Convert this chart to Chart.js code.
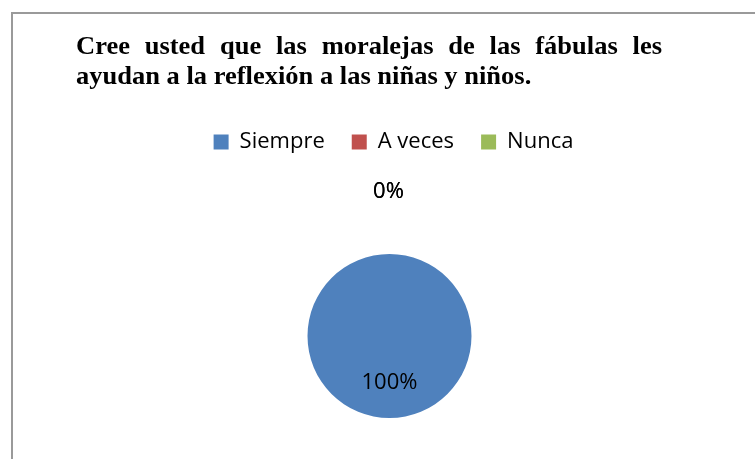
<!DOCTYPE html>
<html><head><meta charset="utf-8">
<script src="https://cdn.jsdelivr.net/npm/chart.js@4.4.1/dist/chart.umd.min.js"></script>
<style>html,body{margin:0;padding:0;background:#fff;overflow:hidden}#wrap{position:relative;width:755px;height:459px}canvas{display:block}</style>
</head><body><div id="wrap"><canvas id="c" width="755" height="459"></canvas></div>
<script>
// ---- data ----
const titleLines = ['Cree usted que las moralejas de las fábulas les', 'ayudan a la reflexión a las niñas y niños.'];
const categories = ['Siempre', 'A veces', 'Nunca'];
const values = [100, 0, 0];

// ---- styles ----
const sliceColors = ['#4F81BD', '#C0504D', '#9BBB59'];
const labelFont = '"Open Sans", "Liberation Sans", sans-serif';
const titleFont = 'bold 25px "Liberation Serif", "DejaVu Serif", serif';

function makeBoxes(chart) {
  const titleBox = {
    position: 'top', weight: 2000, fullSize: true, options: {},
    left: 0, top: 0, right: 0, bottom: 0, width: 0, height: 0,
    isHorizontal() { return true; },
    update(maxWidth) { this.width = maxWidth; this.height = 104; },
    draw() {
      const ctx = chart.ctx;
      const x0 = 76, x1 = 662, sx = 1.06;
      const baselines = [54, 84];
      ctx.save();
      ctx.translate(x0, 0);
      ctx.scale(sx, 1);
      ctx.font = titleFont;
      ctx.fillStyle = '#000';
      ctx.textBaseline = 'alphabetic';
      ctx.textAlign = 'left';
      titleLines.forEach((line, li) => {
        const y = baselines[li];
        if (li === 0) {
          const words = line.split(' ');
          const ww = words.map(w => ctx.measureText(w).width);
          const sum = ww.reduce((a, b) => a + b, 0);
          const gap = ((x1 - x0) / sx - sum) / (words.length - 1);
          let x = 0;
          words.forEach((w, i) => { ctx.fillText(w, x, y); x += ww[i] + gap; });
        } else {
          ctx.fillText(line, 0, y);
        }
      });
      ctx.restore();
    }
  };
  const spacerTop = {
    position: 'top', weight: 500, fullSize: true, options: {},
    left: 0, top: 0, right: 0, bottom: 0, width: 0, height: 0,
    isHorizontal() { return true; },
    update(maxWidth) { this.width = maxWidth; this.height = 91; },
    draw() {}
  };
  const spacerRight = {
    position: 'right', weight: 0, fullSize: false, options: {},
    left: 0, top: 0, right: 0, bottom: 0, width: 0, height: 0,
    isHorizontal() { return false; },
    update(maxWidth, maxHeight) { this.width = 8; this.height = maxHeight; },
    draw() {}
  };
  Chart.layouts.addBox(chart, titleBox);
  Chart.layouts.addBox(chart, spacerTop);
  Chart.layouts.addBox(chart, spacerRight);
}

const framePlugin = {
  id: 'frame',
  beforeInit(chart) { makeBoxes(chart); },
  beforeDraw(chart) {
    const ctx = chart.ctx;
    ctx.save();
    ctx.fillStyle = '#fff';
    ctx.fillRect(0, 0, chart.width, chart.height);
    ctx.strokeStyle = '#9a9a9a';
    ctx.lineWidth = 2;
    ctx.beginPath();
    ctx.moveTo(12, chart.height);
    ctx.lineTo(12, 13);
    ctx.lineTo(chart.width, 13);
    ctx.stroke();
    ctx.restore();
  }
};

const labelPlugin = {
  id: 'sliceLabels',
  afterDatasetsDraw(chart) {
    const ctx = chart.ctx;
    const meta = chart.getDatasetMeta(0);
    const data = chart.data.datasets[0].data;
    const total = data.reduce((a, b) => a + b, 0);
    ctx.save();
    ctx.font = '22px ' + labelFont;
    ctx.fillStyle = '#000';
    ctx.textAlign = 'center';
    ctx.textBaseline = 'alphabetic';
    meta.data.forEach((arc, i) => {
      const p = arc.getProps(['x', 'y', 'startAngle', 'endAngle', 'outerRadius'], true);
      const mid = (p.startAngle + p.endAngle) / 2;
      const v = data[i];
      const d = v > 0 ? 0.545 * p.outerRadius : 1.78 * p.outerRadius;
      const txt = Math.round(v / total * 100) + '%';
      ctx.fillText(txt, p.x + Math.cos(mid) * d - (v > 0 ? 0 : 1), p.y + Math.sin(mid) * d + 8);
    });
    ctx.restore();
  }
};

new Chart(document.getElementById('c'), {
  type: 'pie',
  data: {
    labels: categories,
    datasets: [{ data: values, backgroundColor: sliceColors, borderWidth: 0 }]
  },
  options: {
    responsive: false,
    animation: false,
    devicePixelRatio: 1,
    layout: { padding: { left: 32, right: 0, top: 0, bottom: 41 } },
    plugins: {
      legend: {
        position: 'top',
        labels: {
          boxWidth: 15, boxHeight: 15, padding: 27, color: '#000',
          font: { family: labelFont, size: 22 }
        }
      },
      tooltip: { enabled: false }
    }
  },
  plugins: [framePlugin, labelPlugin]
});
</script>
</body></html>
